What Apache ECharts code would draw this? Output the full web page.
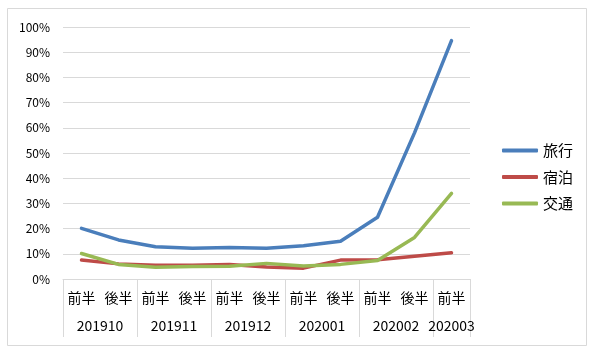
<!DOCTYPE html>
<html><head><meta charset="utf-8">
<script src="https://cdn.jsdelivr.net/npm/echarts@6/dist/echarts.min.js"></script>
<style>html,body{margin:0;padding:0;background:#fff}#c{width:600px;height:361px}</style>
</head><body><div id="c"></div>
<script>
const categories = ['前半','後半','前半','後半','前半','後半','前半','後半','前半','後半','前半'];
const groups = ['201910','201911','201912','202001','202002','202003'];
const groupCenters = [1, 3, 5, 7, 9, 10.5];
const groupBounds = [0, 2, 4, 6, 8, 10, 11];
const travel = [0.201, 0.155, 0.128, 0.122, 0.125, 0.122, 0.132, 0.150, 0.245, 0.580, 0.946];
const lodging = [0.075, 0.060, 0.055, 0.055, 0.058, 0.048, 0.043, 0.075, 0.076, 0.090, 0.104];
const transport = [0.101, 0.058, 0.047, 0.050, 0.051, 0.062, 0.052, 0.058, 0.073, 0.165, 0.340];
const yTicks = [0, 0.1, 0.2, 0.3, 0.4, 0.5, 0.6, 0.7, 0.8, 0.9, 1.0];

const font = '"Noto Sans CJK JP", "Noto Sans", sans-serif';
const chart = echarts.init(document.getElementById('c'));
chart.setOption({
  animation: false,
  backgroundColor: '#fff',
  graphic: [{type:'rect', shape:{x:7.5,y:8.5,width:579,height:337}, style:{fill:'none',stroke:'#d9d9d9',lineWidth:1}, silent:true}],
  grid: {left: 63, right: 130, top: 27, bottom: 82},
  legend: {
    orient: 'vertical', left: 497, top: 137,
    itemWidth: 36, itemHeight: 4, itemGap: 9.5, icon: 'roundRect',
    textStyle: {fontFamily: font, fontSize: 15, color: '#000', lineHeight: 17},
    itemStyle: {borderWidth: 0},
    data: ['旅行','宿泊','交通']
  },
  xAxis: [{
    type: 'category', data: categories, boundaryGap: true,
    axisLine: {show: true, lineStyle: {color: '#d9d9d9', width: 1}},
    axisTick: {show: false},
    axisLabel: {interval: 0, margin: 12, fontFamily: font, fontSize: 14, color: '#000'}
  }, {
    type: 'value', min: 0, max: 11, position: 'bottom', gridIndex: 0,
    axisLine: {show: false},
    splitLine: {show: false},
    axisTick: {show: true, customValues: groupBounds, length: 58, lineStyle: {color: '#d9d9d9', width: 1}},
    axisLabel: {show: true, customValues: groupCenters, margin: 40, fontFamily: font, fontSize: 14, color: '#000',
      formatter: v => { const i = groupCenters.indexOf(v); return i >= 0 ? groups[i] : ''; }}
  }],
  yAxis: {
    type: 'value', min: 0, max: 1, interval: 0.1,
    axisLine: {show: false}, axisTick: {show: false},
    splitLine: {lineStyle: {color: '#d9d9d9', width: 1}},
    axisLabel: {margin: 13, fontFamily: font, fontSize: 12, color: '#000',
      formatter: v => Math.round(v * 100) + '%'}
  },
  series: [
    {name: '旅行', type: 'line', data: travel, showSymbol: false, symbol: 'none', lineStyle: {width: 3.5, color: '#4a7ebb', cap: 'round', join: 'round'}, itemStyle: {color: '#4a7ebb'}},
    {name: '宿泊', type: 'line', data: lodging, showSymbol: false, symbol: 'none', lineStyle: {width: 3.5, color: '#be4b48', cap: 'round', join: 'round'}, itemStyle: {color: '#be4b48'}},
    {name: '交通', type: 'line', data: transport, showSymbol: false, symbol: 'none', lineStyle: {width: 3.5, color: '#98b954', cap: 'round', join: 'round'}, itemStyle: {color: '#98b954'}}
  ]
});
</script></body></html>
